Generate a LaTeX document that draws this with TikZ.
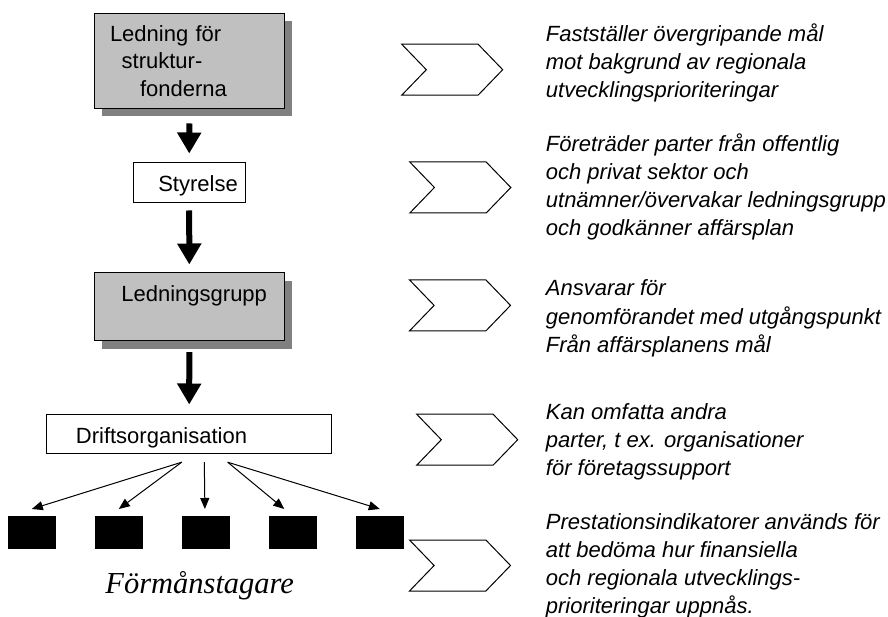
\documentclass[tikz,border=0pt]{standalone}
\usepackage{fontspec}
\setmainfont{Liberation Sans}
\newfontfamily\timesfont{Liberation Serif}
\usepackage{xcolor}
\usetikzlibrary{arrows.meta,positioning,shadows,shapes.symbols}
\definecolor{boxgray}{HTML}{C0C0C0}
\definecolor{shadegray}{HTML}{808080}

\begin{document}
\begin{tikzpicture}[
   x=1pt, y=-1pt,
   font=\fontsize{22}{27.5}\selectfont,
   box/.style={draw,line width=1pt,inner sep=0pt,minimum width=190pt,fill=boxgray,
               drop shadow={shadow xshift=7.5pt,shadow yshift=-8pt,fill=shadegray,opacity=1}},
   plain/.style={draw,line width=1pt,inner sep=0pt,fill=white},
   flow/.style={-{Triangle[length=21pt,width=23pt]},line width=6pt},
   fan/.style={-{Triangle[length=11pt,width=9pt]},line width=1pt},
   benef/.style={fill=black,minimum width=48pt,minimum height=33pt,inner sep=0pt},
   chev/.style={draw,line width=1pt,signal,signal from=west,signal to=east,
                signal pointer angle=92,minimum width=101pt,minimum height=51pt,inner sep=0pt},
   note/.style={anchor=base west,align=left,inner sep=0pt,
                font=\fontsize{22}{28}\selectfont\itshape}
  ]
  \useasboundingbox (0,0) rectangle (888,617);

  \node[box,minimum height=95pt,text width=158.6pt,align=left] (lead) at (189.3,60.8)
     {Ledning för\\\hspace*{11.7pt}struktur-\\\hspace*{30pt}fonderna};
  \node[plain,minimum width=111.7pt,minimum height=40pt,text height=18pt,text depth=0pt]
     (sty) at (189.2,182.3) {\hspace*{17.7pt}Styrelse};
  \node[box,minimum height=68pt,text height=16pt,text depth=26pt]
     (grp) at (189.3,306.7) {\hspace*{9.8pt}Ledningsgrupp};
  \node[plain,minimum width=285pt,minimum height=39pt,text height=20pt,text depth=0pt]
     (drift) at (189.2,433.8) {Driftsorganisation\hspace*{55.4pt}};

  \node[benef] (b1) at (31.8,532.7) {};
  \node[benef,right=38.6pt of b1] (b2) {};
  \node[benef,right=38.6pt of b2] (b3) {};
  \node[benef,right=38.6pt of b3] (b4) {};
  \node[benef,right=38.6pt of b4] (b5) {};
  \node[anchor=base,font=\timesfont\itshape\fontsize{30.5}{36}\selectfont]
     (ben) at (199.7,593) {Förmånstagare};

  \draw[flow,shorten <=14.7pt,shorten >=8.3pt] (lead.south) -- (sty.north);
  \draw[flow,shorten <=7.7pt,shorten >=7.7pt]  (sty.south)  -- (grp.north);
  \draw[flow,shorten <=11pt,shorten >=9.3pt]   (grp.south)  -- (drift.north);

  \draw[fan] ([xshift=-7.5pt,yshift=-8.4pt]drift.south) -- ([yshift=7pt]b1.north);
  \draw[fan] ([xshift=-7.5pt,yshift=-8.4pt]drift.south) -- ([yshift=7pt]b2.north);
  \draw[fan] ([xshift=15.1pt,yshift=-8.4pt]drift.south) -- ([xshift=-0.9pt,yshift=7pt]b3.north);
  \draw[fan] ([xshift=38.5pt,yshift=-8.4pt]drift.south) -- ([xshift=-8.5pt,yshift=7pt]b4.north);
  \draw[fan] ([xshift=38.5pt,yshift=-8.4pt]drift.south) -- ([yshift=7pt]b5.north);

  \node[chev] (c1) at (452.2,69.7)  {};
  \node[chev] (c2) at (460.3,187.5) {};
  \node[chev] (c3) at (460,305.4)   {};
  \node[chev] (c4) at (467.2,439.7) {};
  \node[chev] (c5) at (460,565.5)   {};

  % base = baseline of the last line
  \node[note] (t1) at (545.7,97.7)
     {Fastställer övergripande mål\\mot bakgrund av regionala\\utvecklingsprioriteringar};
  \node[note] (t2) at (545.7,235.7)
     {Företräder parter från offentlig\\och privat sektor och\\utnämner/övervakar ledningsgrupp\\och godkänner affärsplan};
  \node[note] (t3) at (545.7,352)
     {Ansvarar för\\genomförandet med utgångspunkt\\Från affärsplanens mål};
  \node[note] (t4) at (545.7,475.7)
     {Kan omfatta andra\\parter, t ex. organisationer\\för företagssupport};
  \node[note] (t5) at (545.7,613.3)
     {Prestationsindikatorer används för\\att bedöma hur finansiella\\och regionala utvecklings-\\prioriteringar uppnås.};
\end{tikzpicture}
\end{document}
